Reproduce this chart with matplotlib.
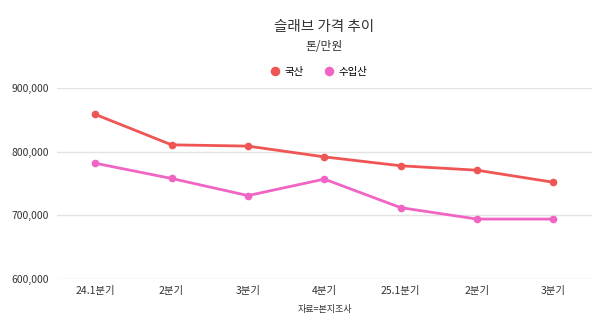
import matplotlib.pyplot as plt
from matplotlib.ticker import FuncFormatter

plt.rcParams["font.family"] = ["Noto Sans CJK KR", "DejaVu Sans"]

# data
quarters = ["24.1분기", "2분기", "3분기", "4분기", "25.1분기", "2분기", "3분기"]
domestic = [859000, 811000, 809000, 792000, 778000, 771000, 752000]
imported = [782000, 758000, 731000, 757000, 712000, 694000, 694000]
yticks = [600000, 700000, 800000, 900000]

red = "#EE5554"
pink = "#F065C4"

fig = plt.figure(figsize=(6, 3.26), dpi=100)
ax = fig.add_axes([0.095, 0.145, 0.891, 0.584])

x = range(len(quarters))
ax.plot(x, domestic, color=red, lw=2.0, marker="o", ms=4.5, label="국산", zorder=3)
ax.plot(x, imported, color=pink, lw=2.0, marker="o", ms=4.5, label="수입산", zorder=3)

ax.set_xlim(-0.5, len(quarters) - 0.5)
ax.set_ylim(600000, 900000)
ax.set_yticks(yticks)
ax.yaxis.set_major_formatter(FuncFormatter(lambda v, p: f"{int(v):,}"))
ax.set_xticks(list(x))
ax.set_xticklabels(quarters)
ax.tick_params(axis="both", length=0, labelsize=7.5, colors="#333333")
ax.tick_params(axis="y", pad=6)
ax.tick_params(axis="x", pad=5)

ax.grid(axis="y", color="#e3e3e3", lw=1)
ax.set_axisbelow(True)
for s in ax.spines.values():
    s.set_visible(False)

fig.text(0.54, 0.918, "슬래브 가격 추이", ha="center", va="center", fontsize=10.5, color="#333333")
fig.text(0.54, 0.857, "톤/만원", ha="center", va="center", fontsize=8.5, color="#333333")
fig.text(0.542, 0.052, "자료=본지조사", ha="center", va="center", fontsize=6.5, color="#333333")

ax.legend(loc="center", bbox_to_anchor=(0.532, 0.779), bbox_transform=fig.transFigure,
          ncol=2, frameon=False, fontsize=7.5, handlelength=0.8, handletextpad=0.5,
          columnspacing=2.0, markerscale=1.3)
leg = ax.get_legend()
for h in leg.legend_handles:
    h.set_linestyle("none")

fig.savefig("out.png", dpi=100)
